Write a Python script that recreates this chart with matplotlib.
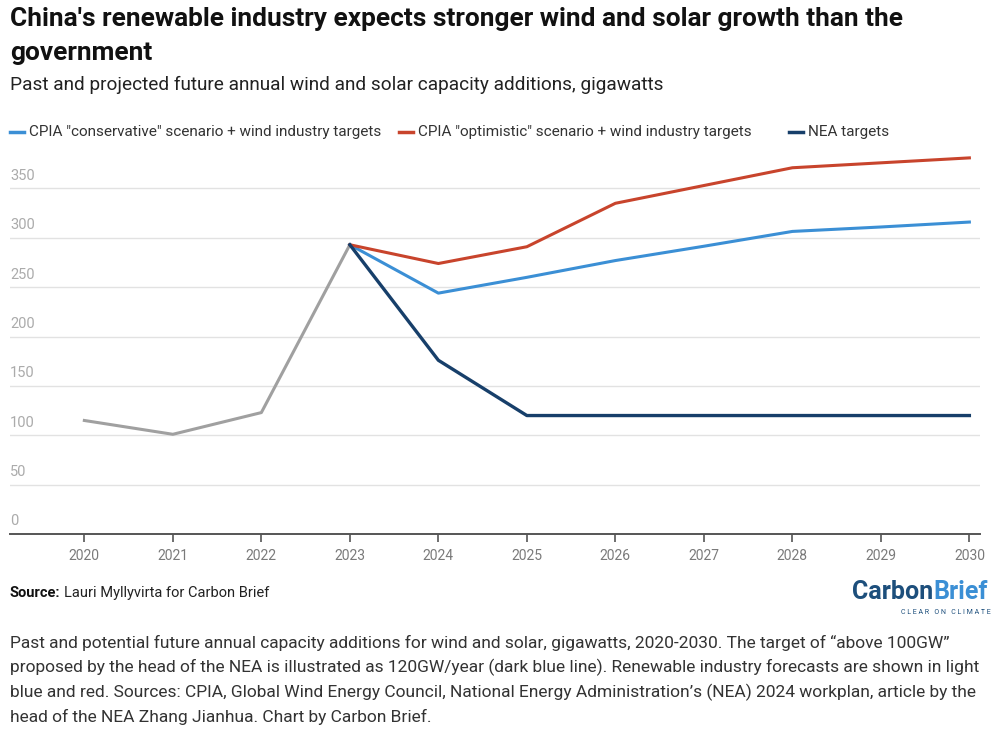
import matplotlib
matplotlib.use("Agg")
import matplotlib.pyplot as plt

FONT = "Roboto"

years = [2020, 2021, 2022, 2023, 2024, 2025, 2026, 2027, 2028, 2029, 2030]
hist_years = [2020, 2021, 2022, 2023]
hist_vals = [115, 101, 123, 293]
proj_years = [2023, 2024, 2025, 2026, 2027, 2028, 2029, 2030]
conservative = [293, 244, 260, 277, 291.5, 306.5, 311, 316]
optimistic = [293, 274, 291, 335, 353, 371, 376, 381]
nea = [293, 176, 120, 120, 120, 120, 120, 120]
yticks = [0, 50, 100, 150, 200, 250, 300, 350]

series_labels = ['CPIA "conservative" scenario + wind industry targets',
                 'CPIA "optimistic" scenario + wind industry targets',
                 'NEA targets']
C_LB = "#3b8fd5"
C_RED = "#c8442c"
C_NAVY = "#173f6a"
C_GRAY = "#a0a0a0"

W, H = 1000, 747
fig = plt.figure(figsize=(W / 100, H / 100), dpi=100)
renderer = fig.canvas.get_renderer()

def fy(y):
    return 1 - y / H

def width_px(t):
    return t.get_window_extent(renderer=renderer).width

ax = fig.add_axes([10 / W, fy(534), 970 / W, (534 - 149) / H])
ax.plot(hist_years, hist_vals, color=C_GRAY, lw=2.2)
ax.plot(proj_years, conservative, color=C_LB, lw=2.2)
ax.plot(proj_years, optimistic, color=C_RED, lw=2.2)
ax.plot(proj_years, nea, color=C_NAVY, lw=2.4)

ax.set_xlim(2019.16, 2030.12)
ax.set_ylim(0, 390)
ax.set_yticks(yticks)
ax.set_yticklabels([])
ax.tick_params(axis="y", length=0)
ax.grid(axis="y", color="#e2e2e2", lw=1)
ax.set_axisbelow(True)
for v in yticks:
    ax.annotate(str(v), xy=(0, v), xycoords=("axes fraction", "data"),
                xytext=(0, 4), textcoords="offset points",
                ha="left", va="bottom", fontsize=10.5, color="#ababab",
                family=FONT)
ax.set_xticks(years)
ax.set_xticklabels([str(y) for y in years], fontsize=10, color="#7a7a7a", family=FONT)
ax.tick_params(axis="x", length=6, width=1.2, color="#555555", pad=5)
for s in ["left", "right", "top"]:
    ax.spines[s].set_visible(False)
ax.spines["bottom"].set_color("#555555")
ax.spines["bottom"].set_linewidth(1.4)

# Title and subtitle
fig.text(10 / W, fy(19), "China's renewable industry expects stronger wind and solar growth than the",
         fontsize=18.9, fontweight="bold", family=FONT, color="#111111", va="center")
fig.text(10 / W, fy(53), "government", fontsize=18.9, fontweight="bold", family=FONT,
         color="#111111", va="center")
fig.text(10 / W, fy(85), "Past and projected future annual wind and solar capacity additions, gigawatts",
         fontsize=13.7, family=FONT, color="#222222", va="center")

# Legend
leg_x = [10, 399, 789]
for x0, lab, c in zip(leg_x, series_labels, [C_LB, C_RED, C_NAVY]):
    fig.add_artist(plt.Line2D([x0 / W, (x0 + 14) / W], [fy(132), fy(132)], color=c, lw=2.5))
    fig.text((x0 + 19) / W, fy(132), lab, fontsize=11, family=FONT, color="#333333", va="center")

# Source
t = fig.text(10 / W, fy(593), "Source:", fontsize=10.5, fontweight="bold", family=FONT,
             color="#111111", va="center")
fig.text((10 + width_px(t) + 4) / W, fy(593), "Lauri Myllyvirta for Carbon Brief", fontsize=10.5,
         family=FONT, color="#222222", va="center")

# Logo
t1 = fig.text(852 / W, fy(592), "Carbon", fontsize=18, fontweight="bold", family=FONT,
              color="#1d4f7c", va="center")
fig.text((852 + width_px(t1)) / W, fy(592), "Brief", fontsize=18, fontweight="bold", family=FONT,
         color="#3b8fd5", va="center")
fig.text(991 / W, fy(612), "C L E A R   O N   C L I M A T E", fontsize=5, family=FONT,
         color="#1d4f7c", va="center", ha="right")

caption = ["Past and potential future annual capacity additions for wind and solar, gigawatts, 2020-2030. The target of \u201cabove 100GW\u201d",
           "proposed by the head of the NEA is illustrated as 120GW/year (dark blue line). Renewable industry forecasts are shown in light",
           "blue and red. Sources: CPIA, Global Wind Energy Council, National Energy Administration\u2019s (NEA) 2024 workplan, article by the",
           "head of the NEA Zhang Jianhua. Chart by Carbon Brief."]
for i, line in enumerate(caption):
    fig.text(10 / W, fy(643 + 24.5 * i), line, fontsize=12.5, family=FONT, color="#333333", va="center")

fig.savefig("out.png", dpi=100, facecolor="white")
